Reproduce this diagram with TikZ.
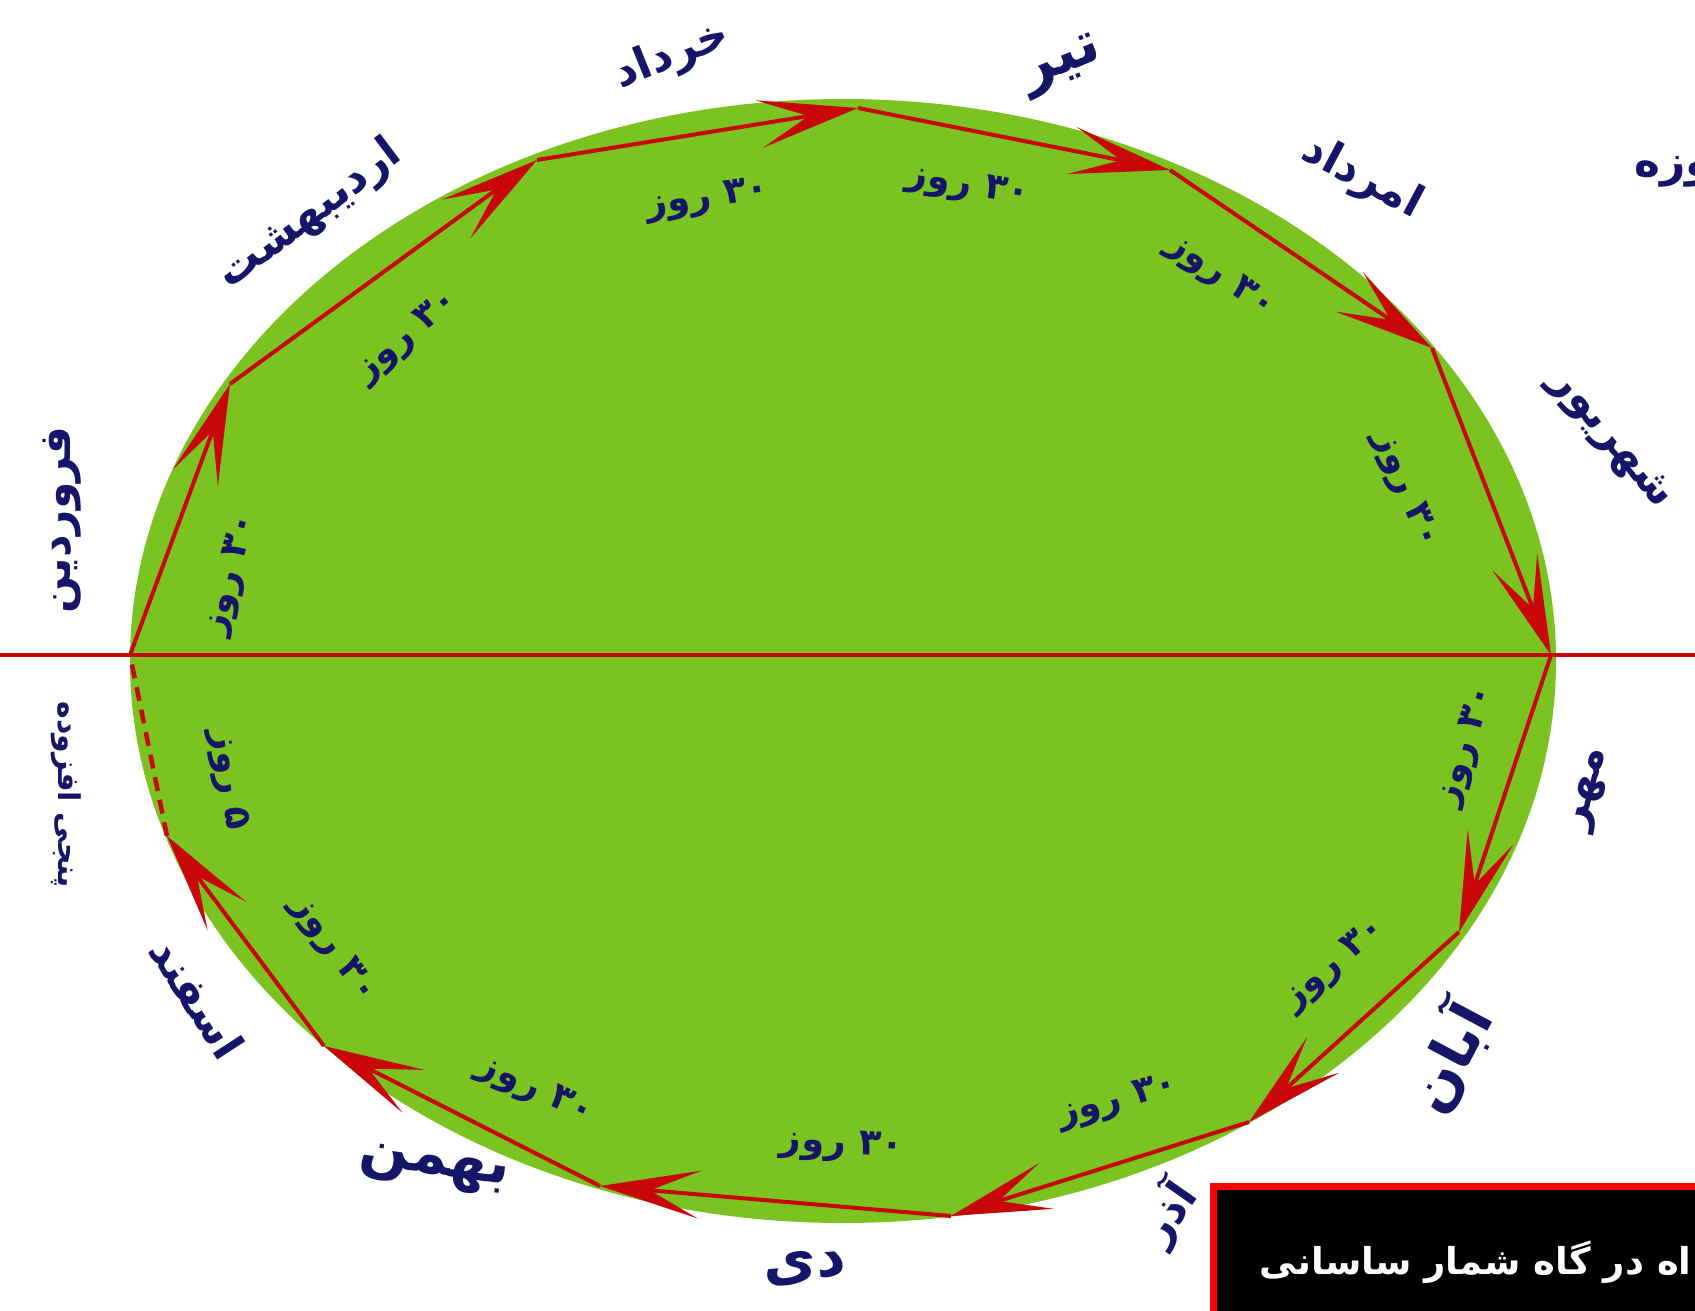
\documentclass[tikz,border=0pt]{standalone}
\usepackage{fontspec}
\usetikzlibrary{arrows.meta}
\TeXXeTstate=1
\newfontfamily\fa[Script=Arabic]{DejaVu Sans}
\newcommand{\rtl}[1]{\beginR #1\endR}
\definecolor{gr}{RGB}{122,195,32}
\definecolor{rd}{RGB}{200,8,8}
\definecolor{navy}{RGB}{22,22,105}
\begin{document}
\begin{tikzpicture}[x=1pt,y=-1pt,
  edge/.style={draw=rd, line width=4pt, -{Stealth[length=100pt,width=48pt,inset=50pt]}},
  month/.style={text=navy, inner sep=0pt, font=\fa\bfseries\fontsize{44}{52}\selectfont},
  bigmonth/.style={month, font=\fa\bfseries\fontsize{58}{66}\selectfont},
  day/.style={text=navy, inner sep=0pt, font=\fa\bfseries\fontsize{37}{44}\selectfont},
  boxtext/.style={text=white, inner sep=0pt, font=\fa\bfseries\fontsize{37}{44}\selectfont}]
\clip (0,0) rectangle (1695,1310);
\fill[white] (0,0) rectangle (1695,1310);
% green disc
\fill[gr] (843,661) ellipse [x radius=713, y radius=562];
% vertices
\coordinate (v0) at (130,655);
\coordinate (v1) at (230,384);
\coordinate (v2) at (537,160);
\coordinate (v3) at (858,108);
\coordinate (v4) at (1170,170);
\coordinate (v5) at (1432,348);
\coordinate (v6) at (1551,655);
\coordinate (v7) at (1459,932);
\coordinate (v8) at (1249,1122);
\coordinate (v9) at (951,1216);
\coordinate (v10) at (600,1186);
\coordinate (v11) at (324,1046);
\coordinate (v12) at (167,836);
\foreach \a/\b in {v0/v1,v1/v2,v2/v3,v3/v4,v4/v5,v5/v6,v6/v7,v7/v8,v8/v9,v9/v10,v10/v11,v11/v12}
  \draw[edge] (\a) -- (\b);
\draw[draw=rd, line width=4.5pt, dash pattern=on 14pt off 9pt] (v12) -- (v0);
% horizontal line
\coordinate (hl) at (0,655);
\coordinate (hr) at (1695,655);
\draw[draw=rd, line width=4.5pt] (hl) -- (hr);
% month names
\node[month, rotate=90]  (far) at (62,520)   {\rtl{فروردین}};
\node[month, rotate=37]  (ord) at (310,215)  {\rtl{اردیبهشت}};
\node[month, rotate=22]  (kho) at (672,56)   {\rtl{خرداد}};
\node[bigmonth, rotate=22] (tir) at (1063,66) {\rtl{تیر}};
\node[month, rotate=-28] (amo) at (1362,178) {\rtl{امرداد}};
\node[month, rotate=-50] (sha) at (1610,440) {\rtl{شهریور}};
\node[month, rotate=75]  (meh) at (1592,790) {\rtl{مهر}};
\node[bigmonth, rotate=62] (aba) at (1448,1057) {\rtl{آبان}};
\node[month, rotate=55]  (aza) at (1168,1213) {\rtl{آذر}};
\node[bigmonth, rotate=5] (dey) at (805,1268) {\rtl{دی}};
\node[bigmonth, rotate=-8] (bah) at (434,1170) {\rtl{بهمن}};
\node[month, rotate=-57] (esf) at (197,998)  {\rtl{اسفند}};
\node[month, rotate=-90, font=\fa\bfseries\fontsize{30}{36}\selectfont] (pan) at (66,795) {\rtl{پنجی افزوده}};
\node[month, anchor=west] (roz) at (1634,172) {\rtl{وزه}};
% day counts
\node[day, rotate=75]  (d1)  at (232,575)  {\rtl{۳۰ روز}};
\node[day, rotate=40]  (d2)  at (408,337)  {\rtl{۳۰ روز}};
\node[day, rotate=8]   (d3)  at (708,200)  {\rtl{۳۰ روز}};
\node[day, rotate=-10] (d4)  at (968,187)  {\rtl{۳۰ روز}};
\node[day, rotate=-35] (d5)  at (1220,277) {\rtl{۳۰ روز}};
\node[day, rotate=-68] (d6)  at (1405,490) {\rtl{۳۰ روز}};
\node[day, rotate=72]  (d7)  at (1467,746) {\rtl{۳۰ روز}};
\node[day, rotate=40]  (d8)  at (1335,965) {\rtl{۳۰ روز}};
\node[day, rotate=15]  (d9)  at (1118,1102) {\rtl{۳۰ روز}};
\node[day, rotate=-3]  (d10) at (842,1146) {\rtl{۳۰ روز}};
\node[day, rotate=-25] (d11) at (535,1091) {\rtl{۳۰ روز}};
\node[day, rotate=-55] (d12) at (333,950)  {\rtl{۳۰ روز}};
\node[day, rotate=-82] (d0)  at (228,780)  {\rtl{۵ روز}};
% title box
\draw[fill=black, draw=red, line width=7pt] (1213.5,1186.5) rectangle (1760,1360);
\node[boxtext, anchor=east] (title) at (1692,1262) {\rtl{اه در گاه شمار ساسانی}};
\end{tikzpicture}
\end{document}
